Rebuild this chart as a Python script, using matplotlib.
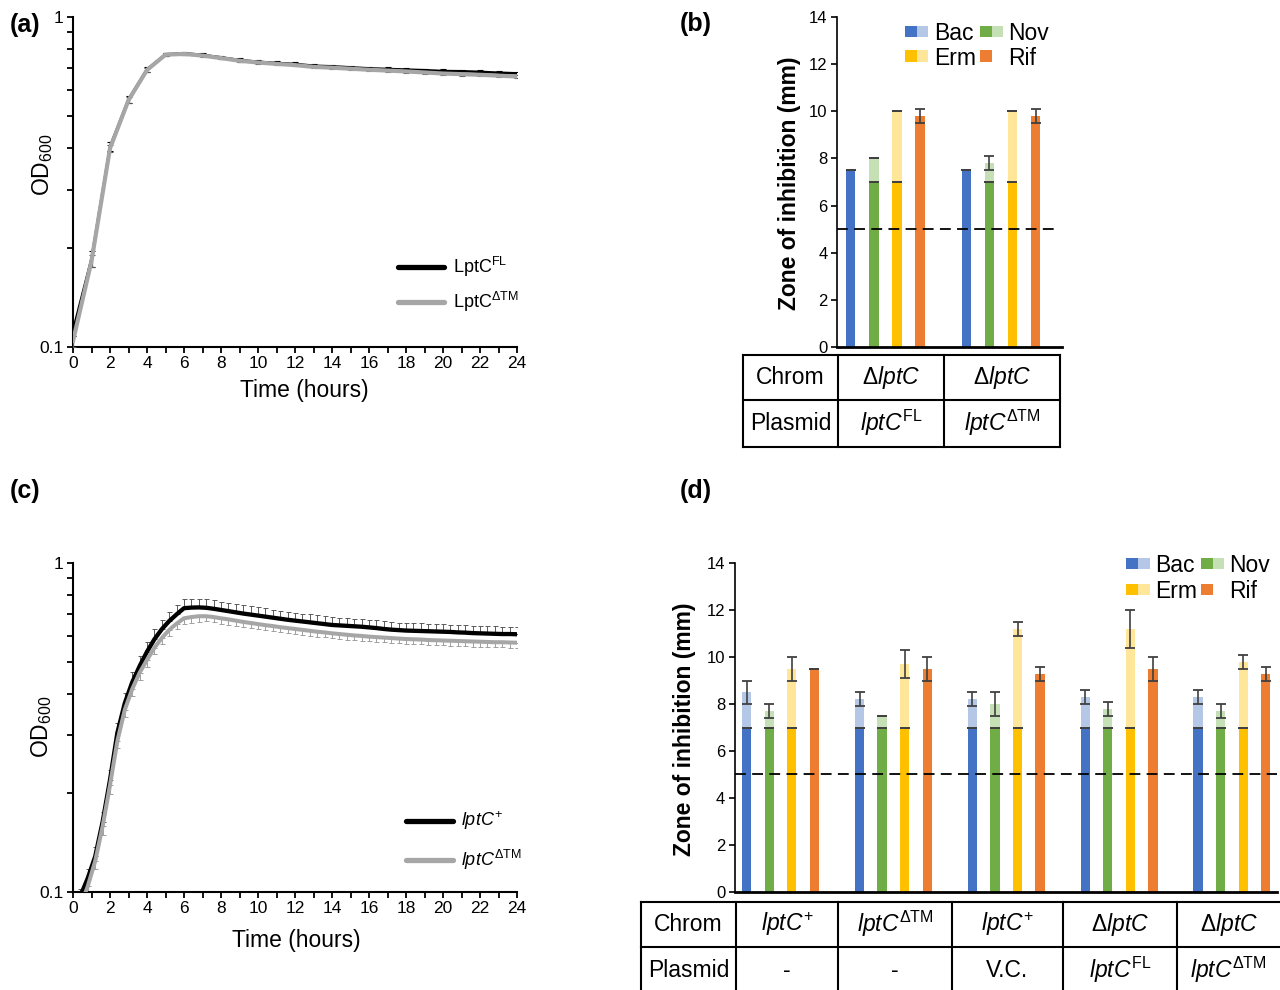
import numpy as np
import matplotlib
matplotlib.use('Agg')
import matplotlib.pyplot as plt
from matplotlib.patches import Rectangle
from matplotlib.ticker import FixedLocator, NullFormatter, MultipleLocator

plt.rcParams['font.family'] = ['Liberation Sans', 'DejaVu Sans']
plt.rcParams['mathtext.fontset'] = 'custom'
plt.rcParams['mathtext.rm'] = 'Liberation Sans'
plt.rcParams['mathtext.it'] = 'Liberation Sans:italic'
plt.rcParams['mathtext.bf'] = 'Liberation Sans:bold'

W, H = 1280, 990

# ---------------- data ----------------
# (a) hourly growth curves
hours_a = np.arange(0, 25)
a_fl = [0.112, 0.185, 0.405, 0.564, 0.695, 0.772, 0.778, 0.769, 0.756, 0.742, 0.733,
        0.727, 0.722, 0.713, 0.710, 0.705, 0.700, 0.697, 0.694, 0.691, 0.687, 0.686,
        0.683, 0.679, 0.676]
a_fl_err = [0.004, 0.010, 0.012, 0.014, 0.012, 0.008, 0.008, 0.008, 0.008, 0.008, 0.008,
            0.008, 0.008, 0.008, 0.008, 0.008, 0.008, 0.008, 0.008, 0.008, 0.008, 0.008,
            0.008, 0.008, 0.008]
a_dtm = [0.104, 0.182, 0.400, 0.560, 0.692, 0.770, 0.774, 0.765, 0.752, 0.738, 0.729,
         0.722, 0.716, 0.707, 0.703, 0.698, 0.693, 0.689, 0.685, 0.680, 0.675, 0.672,
         0.669, 0.665, 0.661]
a_dtm_err = [0.004, 0.008, 0.010, 0.012, 0.010, 0.007, 0.007, 0.007, 0.007, 0.007, 0.007,
             0.007, 0.007, 0.007, 0.007, 0.007, 0.007, 0.007, 0.007, 0.007, 0.007, 0.007,
             0.007, 0.007, 0.007]

# (c) plate reader curves, one reading every 0.4 h
hours_c = np.round(np.arange(0, 24.01, 0.4), 1)
c_wt = [0.072, 0.097, 0.110, 0.128, 0.163, 0.219, 0.305, 0.375, 0.434, 0.486,
        0.538, 0.587, 0.630, 0.667, 0.699, 0.730, 0.733, 0.734, 0.732, 0.727,
        0.721, 0.715, 0.709, 0.703, 0.698, 0.693, 0.688, 0.683, 0.678, 0.673,
        0.669, 0.665, 0.661, 0.657, 0.653, 0.649, 0.647, 0.645, 0.643, 0.641,
        0.638, 0.635, 0.631, 0.628, 0.626, 0.624, 0.623, 0.622, 0.621, 0.620,
        0.619, 0.618, 0.616, 0.615, 0.613, 0.612, 0.611, 0.610, 0.609, 0.609,
        0.608]
c_wt_err = [0.004, 0.005, 0.007, 0.009, 0.012, 0.016, 0.022, 0.028, 0.032, 0.036,
            0.039, 0.042, 0.044, 0.045, 0.046, 0.046, 0.046, 0.045, 0.045, 0.044,
            0.044, 0.043, 0.043, 0.042, 0.042, 0.041, 0.041, 0.040, 0.040, 0.039,
            0.039, 0.038, 0.038, 0.037, 0.037, 0.036, 0.036, 0.036, 0.035, 0.035,
            0.035, 0.035, 0.034, 0.034, 0.034, 0.034, 0.034, 0.034, 0.033, 0.033,
            0.033, 0.033, 0.033, 0.033, 0.033, 0.033, 0.033, 0.033, 0.033, 0.033,
            0.033]
c_dtm = [0.068, 0.090, 0.104, 0.124, 0.158, 0.211, 0.288, 0.358, 0.414, 0.464,
         0.508, 0.553, 0.592, 0.627, 0.655, 0.680, 0.686, 0.690, 0.690, 0.686,
         0.680, 0.675, 0.669, 0.663, 0.658, 0.653, 0.648, 0.644, 0.639, 0.635,
         0.631, 0.627, 0.623, 0.619, 0.616, 0.612, 0.609, 0.606, 0.603, 0.601,
         0.598, 0.596, 0.594, 0.592, 0.590, 0.588, 0.587, 0.586, 0.584, 0.583,
         0.582, 0.581, 0.580, 0.579, 0.578, 0.577, 0.576, 0.575, 0.575, 0.574,
         0.573]
c_dtm_err = [0.003, 0.004, 0.005, 0.007, 0.009, 0.012, 0.015, 0.018, 0.020, 0.022,
             0.023, 0.024, 0.025, 0.025, 0.026, 0.026, 0.026, 0.026, 0.025, 0.025,
             0.025, 0.025, 0.024, 0.024, 0.024, 0.024, 0.023, 0.023, 0.023, 0.023,
             0.022, 0.022, 0.022, 0.022, 0.021, 0.021, 0.021, 0.021, 0.021, 0.020,
             0.020, 0.020, 0.020, 0.020, 0.020, 0.020, 0.020, 0.020, 0.020, 0.020,
             0.020, 0.020, 0.020, 0.020, 0.020, 0.020, 0.020, 0.020, 0.020, 0.020,
             0.020]

# zone of inhibition (mm)
antibiotics = ['Bac', 'Nov', 'Erm', 'Rif']
disk_mm = 7.0
cutoff_mm = 5.0

b_chrom = [r'$\Delta\mathit{lptC}$', r'$\Delta\mathit{lptC}$']
b_plasmid = [r'$\mathit{lptC}^{\mathrm{FL}}$', r'$\mathit{lptC}^{\Delta\mathrm{TM}}$']
b_bac, b_bac_err = [7.5, 7.5], [0.0, 0.0]
b_nov, b_nov_err = [8.0, 7.8], [0.0, 0.3]
b_erm, b_erm_err = [10.0, 10.0], [0.0, 0.0]
b_rif, b_rif_err = [9.8, 9.8], [0.3, 0.3]
b_split = [False, True, True, False]

d_chrom = [r'$\mathit{lptC}^{+}$', r'$\mathit{lptC}^{\Delta\mathrm{TM}}$', r'$\mathit{lptC}^{+}$',
           r'$\Delta\mathit{lptC}$', r'$\Delta\mathit{lptC}$']
d_plasmid = ['-', '-', 'V.C.', r'$\mathit{lptC}^{\mathrm{FL}}$', r'$\mathit{lptC}^{\Delta\mathrm{TM}}$']
d_bac, d_bac_err = [8.5, 8.2, 8.2, 8.3, 8.3], [0.5, 0.3, 0.3, 0.3, 0.3]
d_nov, d_nov_err = [7.7, 7.5, 8.0, 7.8, 7.7], [0.3, 0.0, 0.5, 0.3, 0.3]
d_erm, d_erm_err = [9.5, 9.7, 11.2, 11.2, 9.8], [0.5, 0.6, 0.3, 0.8, 0.3]
d_rif, d_rif_err = [9.5, 9.5, 9.3, 9.5, 9.3], [0.0, 0.5, 0.3, 0.5, 0.3]
d_split = [True, True, True, False]

dark = ['#4472C4', '#70AD47', '#FFC000', '#ED7D31']
light = ['#B4C7E7', '#C5E0B4', '#FFE699', None]

# ---------------- figure ----------------
fig = plt.figure(figsize=(W / 100, H / 100), dpi=100)


def px_axes(l, t, r, b):
    return fig.add_axes([l / W, 1 - b / H, (r - l) / W, (b - t) / H])


def growth_axes(ax):
    ax.set_yscale('log')
    ax.set_ylim(0.1, 1)
    ax.set_xlim(0, 24)
    ax.yaxis.set_major_locator(FixedLocator([0.1, 1]))
    ax.set_yticklabels(['0.1', '1'])
    ax.yaxis.set_minor_locator(FixedLocator([0.2, 0.3, 0.4, 0.5, 0.6, 0.7, 0.8, 0.9]))
    ax.yaxis.set_minor_formatter(NullFormatter())
    ax.xaxis.set_major_locator(MultipleLocator(2))
    ax.xaxis.set_minor_locator(MultipleLocator(1))
    for s in ['top', 'right']:
        ax.spines[s].set_visible(False)
    for s in ['left', 'bottom']:
        ax.spines[s].set_linewidth(1.5)
    ax.tick_params(which='both', direction='out', length=4, width=1.3, labelsize=12.5, pad=3)


def zone_axes(ax, values, errs, split, ngroups):
    for k in range(4):
        x = np.arange(ngroups) * 5 + k
        v = np.array(values[k])
        e = np.array(errs[k])
        if split[k]:
            ax.bar(x, disk_mm, width=0.41, color=dark[k], zorder=2)
            ax.bar(x, v - disk_mm, bottom=disk_mm, width=0.41, color=light[k], zorder=2)
            ax.errorbar(x, np.full(ngroups, disk_mm), yerr=0, fmt='none', ecolor='#404040',
                        capsize=3.4, capthick=1.3, elinewidth=1.2, zorder=3)
        else:
            ax.bar(x, v, width=0.41, color=dark[k], zorder=2)
        ax.errorbar(x, v, yerr=e, fmt='none', ecolor='#404040',
                    capsize=3.4, capthick=1.3, elinewidth=1.2, zorder=3)
    ax.set_ylim(0, 14)
    ax.yaxis.set_major_locator(MultipleLocator(2))
    ax.set_xticks([])
    for s in ['top', 'right']:
        ax.spines[s].set_visible(False)
    ax.spines['left'].set_linewidth(1.2)
    ax.spines['bottom'].set_linewidth(2.0)
    ax.tick_params(axis='y', direction='out', length=4, width=1.2, labelsize=12, pad=3)


# (a)
ax_a = px_axes(73, 17.3, 517, 346.7)
ax_a.errorbar(hours_a, a_fl, yerr=a_fl_err, color='black', lw=1.8, ecolor='black',
              elinewidth=0.8, capsize=2.5, capthick=0.8, zorder=2)
ax_a.errorbar(hours_a, a_dtm, yerr=a_dtm_err, color='#A6A6A6', lw=3.0, ecolor='#555555',
              elinewidth=0.8, capsize=2.5, capthick=0.8, zorder=3)
growth_axes(ax_a)

# (c)
ax_c = px_axes(73, 563.3, 517, 891.7)
ax_c.plot(hours_c, c_wt, color='black', lw=3.1, zorder=3)
ax_c.plot(hours_c, c_dtm, color='#A6A6A6', lw=2.9, zorder=3)
ax_c.errorbar(hours_c, c_wt, yerr=[np.zeros(len(c_wt)), c_wt_err], fmt='none',
              ecolor='#5a5a5a', elinewidth=0.7, capsize=1.8, capthick=0.7, zorder=2)
ax_c.errorbar(hours_c, c_dtm, yerr=[c_dtm_err, np.zeros(len(c_dtm))], fmt='none',
              ecolor='#a0a0a0', elinewidth=0.7, capsize=1.8, capthick=0.7, zorder=2)
growth_axes(ax_c)

# (b)
ax_b = px_axes(837.3, 17.3, 1061.7, 346.7)
zone_axes(ax_b, [b_bac, b_nov, b_erm, b_rif], [b_bac_err, b_nov_err, b_erm_err, b_rif_err],
          b_split, 2)
ax_b.set_xlim(-0.58, 9.13)
ax_b.axhline(cutoff_mm, xmax=0.97, color='black', lw=1.3, dashes=(6, 3.5), zorder=4)

# (d)
ax_d = px_axes(735, 563.3, 1277, 891.7)
zone_axes(ax_d, [d_bac, d_nov, d_erm, d_rif], [d_bac_err, d_nov_err, d_erm_err, d_rif_err],
          d_split, 5)
ax_d.set_xlim(-0.52, 23.5)
ax_d.axhline(cutoff_mm, color='black', lw=1.3, dashes=(6, 3.5), zorder=4)

# ---------------- overlay: labels, legends, tables ----------------
ov = fig.add_axes([0, 0, 1, 1], zorder=10)
ov.set_xlim(0, W)
ov.set_ylim(H, 0)
ov.axis('off')

for lab, x, y in [('(a)', 10, 25), ('(b)', 680, 24), ('(c)', 10, 491), ('(d)', 680, 491)]:
    ov.text(x, y, lab, fontsize=18, fontweight='bold', ha='left', va='center')

for x, y in [(42.5, 165), (41.7, 727)]:
    ov.text(x, y, r'OD$_{600}$', fontsize=16.5, rotation=90, ha='center', va='center')
for x, y in [(304, 391), (296, 941)]:
    ov.text(x, y, 'Time (hours)', fontsize=16.5, ha='center', va='center')
for x, y in [(789.5, 183), (684.5, 729)]:
    ov.text(x, y, 'Zone of inhibition (mm)', fontsize=16.5, fontweight='bold', rotation=90,
            ha='center', va='center')

# line legends
for (x0, x1, xt, ys, labels) in [
        (398, 444, 453, (266.7, 301.7), [r'LptC$^{\mathrm{FL}}$', r'LptC$^{\Delta\mathrm{TM}}$']),
        (406, 453, 461, (821, 860), [r'$\mathit{lptC}^{+}$', r'$\mathit{lptC}^{\Delta\mathrm{TM}}$'])]:
    for y, c, lab in zip(ys, ['black', '#A6A6A6'], labels):
        ov.plot([x0, x1], [y, y], color=c, lw=3.8, solid_capstyle='round')
        ov.text(xt, y, lab, fontsize=13, ha='left', va='center')

# bar legends
for (cx, tx, ry, sz) in [((905.3, 980.0), (934.0, 1007.7), (25.5, 50.3), 11.5),
                         ((1126.0, 1200.7), (1155.0, 1228.7), (557.5, 583.5), 11.8)]:
    for k, name in enumerate(antibiotics):
        col, row = k % 2, k // 2
        x, y = cx[col], ry[row]
        ov.add_patch(Rectangle((x, y), sz, sz, color=dark[k], lw=0))
        if light[k] is not None:
            ov.add_patch(Rectangle((x + sz, y), sz, sz, color=light[k], lw=0))
        ov.text(tx[col], y + sz / 2 + 2, name, fontsize=16.5, ha='left', va='center')


def draw_table(cols, rows, cells, right_open=False):
    x0, x1 = cols[0], cols[-1]
    for y in rows:
        if y < H:
            ov.plot([x0, x1], [y, y], color='black', lw=1.5, solid_capstyle='projecting')
    inner = cols if not right_open else cols[:-1]
    for x in inner:
        ov.plot([x, x], [rows[0], min(rows[-1], H)], color='black', lw=1.5,
                solid_capstyle='projecting')
    for r, row in enumerate(cells):
        yc = (rows[r] + rows[r + 1]) / 2
        for c, txt in enumerate(row):
            xc = (cols[c] + cols[c + 1]) / 2
            ov.text(xc, yc, txt, fontsize=16.5, ha='center', va='center')


draw_table([742.7, 838.3, 944.3, 1060], [355, 400, 446.7],
           [['Chrom'] + b_chrom, ['Plasmid'] + b_plasmid])
draw_table([641, 735.7, 838.3, 951.7, 1063.3, 1177.3, 1280], [901.7, 946.7, 994],
           [['Chrom'] + d_chrom, ['Plasmid'] + d_plasmid], right_open=True)

fig.savefig('out.png', dpi=100)
